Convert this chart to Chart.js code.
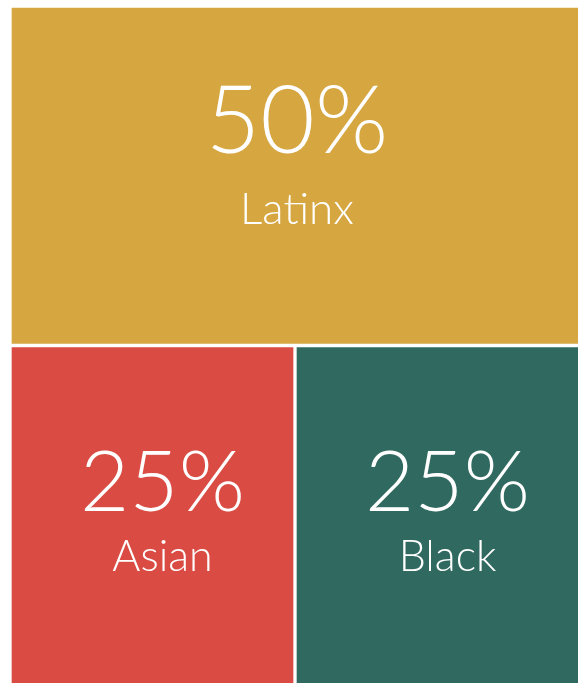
<!DOCTYPE html>
<html>
<head>
<meta charset="utf-8">
<script src="https://cdn.jsdelivr.net/npm/chart.js@4/dist/chart.umd.min.js"></script>
<style>
  html, body { margin: 0; padding: 0; background: #fff; overflow: hidden; }
  #wrap { position: absolute; left: 0; top: 0; width: 580px; height: 685px; }
</style>
</head>
<body>
<div id="wrap"><canvas id="chart"></canvas></div>
<script>
// treemap drawn as a stacked horizontal bar: one row per level
const groups = ['Latinx', 'Asian', 'Black'];
const shares = [50, 25, 25];
const rowOf = [0, 1, 1];
const rows = ['row1', 'row2'];
const colors = ['#D6A640', '#D94B43', '#306960'];

function TreemapLabels() {
    return {
        id: 'treemapLabels',
        afterDatasetsDraw(chart) {
            const ctx = chart.ctx;
            ctx.save();
            ctx.fillStyle = '#fff';
            ctx.textAlign = 'center';
            ctx.textBaseline = 'middle';
            chart.data.datasets.forEach((ds, i) => {
                const bar = chart.getDatasetMeta(i).data[rowOf[i]];
                const top = rowOf[i] === 0;
                const cx = (bar.x + bar.base) / 2 + (top ? 2 : 10);
                const cy = bar.y;
                const big = top ? 94 : 85;
                const small = top ? 44 : 43;
                const up = top ? 53 : 32;
                const down = top ? 34 : 42;
                ctx.font = '300 ' + big + 'px "Century Gothic", Lato, sans-serif';
                ctx.fillText(shares[i] + '%', cx, cy - up);
                ctx.font = '300 ' + small + 'px "Century Gothic", Lato, sans-serif';
                ctx.fillText(groups[i], cx, cy + down);
            });
            ctx.restore();
        }
    };
}

const datasets = groups.map((g, i) => ({
    label: g,
    data: rows.map((r, j) => j === rowOf[i] ? shares[i] : null),
    backgroundColor: colors[i],
    borderColor: '#fff',
    borderWidth: 2,
    borderSkipped: false,
    categoryPercentage: 1,
    barPercentage: 1
}));

const config = {
    type: 'bar',
    data: { labels: rows, datasets: datasets },
    options: {
        indexAxis: 'y',
        responsive: true,
        maintainAspectRatio: false,
        animation: false,
        layout: { padding: { left: 10, top: 6, right: 0, bottom: 0 } },
        scales: {
            x: { stacked: true, min: 0, max: 50, display: false },
            y: { stacked: true, display: false }
        },
        plugins: {
            legend: { display: false },
            tooltip: { enabled: false }
        }
    },
    plugins: [TreemapLabels()]
};

const chart = new Chart(document.getElementById('chart'), config);
</script>
</body>
</html>
